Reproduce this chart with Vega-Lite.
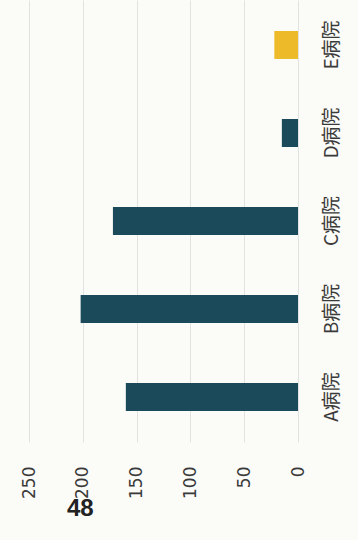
{
  "$schema": "https://vega.github.io/schema/vega-lite/v6.json",
  "autosize": "none",
  "width": 269,
  "height": 442,
  "padding": {"left": 29, "top": 0, "right": 60, "bottom": 98},
  "background": "#fbfbf8",
  "title": {
    "text": "48",
    "orient": "bottom",
    "anchor": "start",
    "frame": "group",
    "dx": 38,
    "offset": -1,
    "font": "Liberation Sans",
    "fontSize": 24,
    "fontWeight": "bold",
    "color": "#222222"
  },
  "data": {
    "values": [
      {"hospital": "A病院", "value": 160, "group": "main"},
      {"hospital": "B病院", "value": 202, "group": "main"},
      {"hospital": "C病院", "value": 172, "group": "main"},
      {"hospital": "D病院", "value": 15, "group": "main"},
      {"hospital": "E病院", "value": 22, "group": "highlight"}
    ]
  },
  "mark": {"type": "bar"},
  "encoding": {
    "y": {
      "field": "hospital",
      "type": "nominal",
      "sort": ["E病院", "D病院", "C病院", "B病院", "A病院"],
      "scale": {"paddingInner": 0.682, "paddingOuter": 0.352},
      "axis": {
        "orient": "right",
        "title": null,
        "domain": false,
        "ticks": false,
        "grid": false,
        "labelAngle": -90,
        "labelAlign": "center",
        "labelBaseline": "top",
        "labelPadding": 24,
        "labelFont": "Noto Sans CJK JP",
        "labelFontSize": 19,
        "labelColor": "#3a3a3a"
      }
    },
    "x": {
      "field": "value",
      "type": "quantitative",
      "scale": {"domain": [0, 250], "reverse": true, "nice": false},
      "axis": {
        "orient": "bottom",
        "title": null,
        "domain": false,
        "ticks": false,
        "values": [0, 50, 100, 150, 200, 250],
        "grid": true,
        "gridColor": "#e2e2e2",
        "gridWidth": 1,
        "labelAngle": -90,
        "labelAlign": "right",
        "labelBaseline": "middle",
        "labelPadding": 24,
        "labelFont": "DejaVu Sans",
        "labelFontSize": 17,
        "labelColor": "#3a3a3a"
      }
    },
    "color": {
      "field": "group",
      "type": "nominal",
      "scale": {"domain": ["main", "highlight"], "range": ["#1b4a5a", "#edbb2a"]},
      "legend": null
    }
  },
  "config": {"view": {"stroke": null}}
}
